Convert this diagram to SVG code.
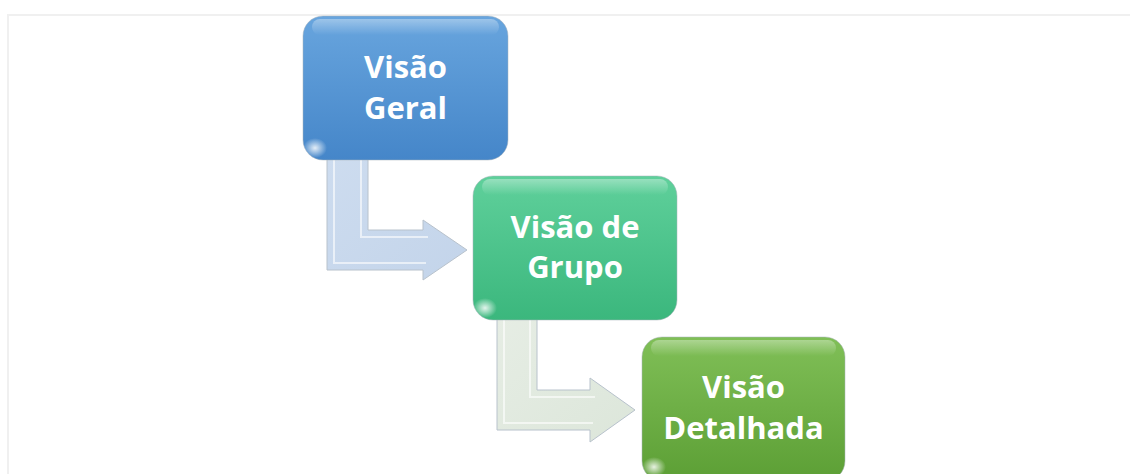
<svg xmlns="http://www.w3.org/2000/svg" width="1130" height="474" viewBox="0 0 1130 474">
  <defs>
    <linearGradient id="gBlue" x1="0" y1="0" x2="0" y2="1">
      <stop offset="0" stop-color="#68a5de"/>
      <stop offset="1" stop-color="#4586c9"/>
    </linearGradient>
    <linearGradient id="gTeal" x1="0" y1="0" x2="0" y2="1">
      <stop offset="0" stop-color="#5fd09b"/>
      <stop offset="1" stop-color="#3bb77d"/>
    </linearGradient>
    <linearGradient id="gGreen" x1="0" y1="0" x2="0" y2="1">
      <stop offset="0" stop-color="#80bf57"/>
      <stop offset="1" stop-color="#5c9f35"/>
    </linearGradient>
    <linearGradient id="gArrow1" x1="0" y1="0" x2="1" y2="1">
      <stop offset="0" stop-color="#cddcef"/>
      <stop offset="1" stop-color="#c3d4ea"/>
    </linearGradient>
    <linearGradient id="gArrow2" x1="0" y1="0" x2="1" y2="1">
      <stop offset="0" stop-color="#e6ede4"/>
      <stop offset="1" stop-color="#dce6da"/>
    </linearGradient>
    <linearGradient id="gGloss" x1="0" y1="0" x2="0" y2="1">
      <stop offset="0" stop-color="#ffffff" stop-opacity="0.35"/>
      <stop offset="1" stop-color="#ffffff" stop-opacity="0"/>
    </linearGradient>
    <radialGradient id="gSpot" cx="0.5" cy="0.5" r="0.5">
      <stop offset="0" stop-color="#ffffff" stop-opacity="0.85"/>
      <stop offset="1" stop-color="#ffffff" stop-opacity="0"/>
    </radialGradient>
  </defs>
  <style>
    .frame { fill: none; stroke: #f0f0f0; stroke-width: 2; }
    .box { stroke: #aab4bc; stroke-width: 1; stroke-opacity: 0.5; }
    .gloss { fill: url(#gGloss); }
    .spot { fill: url(#gSpot); }
    .label { font-family: "Open Sans", "Liberation Sans", sans-serif; font-weight: bold; font-size: 31px; fill: #ffffff; text-anchor: middle; }
    .arrow { stroke: #b8c2cc; stroke-width: 1; }
    .bevel { fill: none; stroke: #ffffff; stroke-opacity: 0.6; stroke-width: 2; }
  </style>

  <rect class="frame" x="8" y="15" width="1140" height="480"/>

  <g id="connectors">
    <g id="arrow1">
      <polygon class="arrow" fill="url(#gArrow1)" points="327,158 368,158 368,230 423,230 423,220 467,250 423,280 423,270 327,270"/>
      <polyline class="bevel" points="334,160 334,263 426,263"/>
      <polyline class="bevel" points="361,160 361,237 428,237"/>
    </g>
    <g id="arrow2">
      <polygon class="arrow" fill="url(#gArrow2)" points="497,318 537,318 537,390 590,390 590,378 635,410 590,442 590,430 497,430"/>
      <polyline class="bevel" points="504,320 504,423 593,423"/>
      <polyline class="bevel" points="530,320 530,397 595,397"/>
    </g>
  </g>

  <g id="node1">
    <rect class="box" x="303" y="16" width="205" height="144" rx="20" fill="url(#gBlue)"/>
    <rect class="gloss" x="312" y="19" width="187" height="16" rx="8"/>
    <ellipse class="spot" cx="315" cy="148" rx="12" ry="10"/>
    <text class="label" x="405.5" y="78">Visão</text>
    <text class="label" x="405.5" y="119">Geral</text>
  </g>

  <g id="node2">
    <rect class="box" x="473" y="176" width="204" height="144" rx="20" fill="url(#gTeal)"/>
    <rect class="gloss" x="482" y="179" width="186" height="16" rx="8"/>
    <ellipse class="spot" cx="485" cy="308" rx="12" ry="10"/>
    <text class="label" x="575" y="238">Visão de</text>
    <text class="label" x="575" y="278">Grupo</text>
  </g>

  <g id="node3">
    <rect class="box" x="642" y="337" width="203" height="144" rx="20" fill="url(#gGreen)"/>
    <rect class="gloss" x="651" y="340" width="185" height="16" rx="8"/>
    <ellipse class="spot" cx="654" cy="467" rx="12" ry="10"/>
    <text class="label" x="743.5" y="398">Visão</text>
    <text class="label" x="743.5" y="439">Detalhada</text>
  </g>
</svg>
